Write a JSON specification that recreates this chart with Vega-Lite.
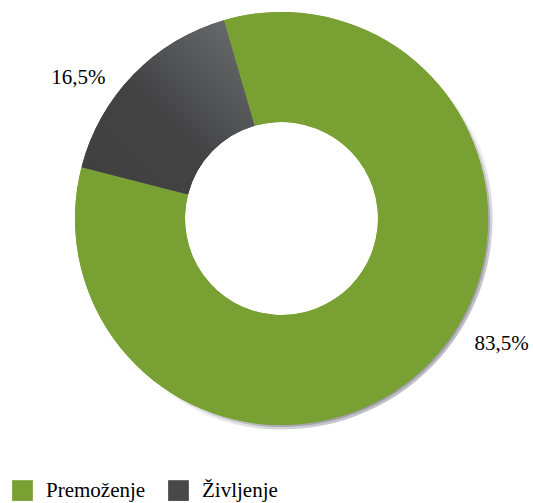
{
  "$schema": "https://vega.github.io/schema/vega-lite/v6.json",
  "width": 503,
  "height": 437,
  "autosize": {"type": "none"},
  "padding": {"left": 30, "top": 0, "right": 0, "bottom": 66},
  "background": "white",
  "config": {"view": {"stroke": null}},
  "data": {
    "values": [
      {"cat": "Premoženje", "value": 83.5, "label": "83,5%"},
      {"cat": "Življenje", "value": 16.5, "label": "16,5%"}
    ]
  },
  "encoding": {
    "theta": {"field": "value", "type": "quantitative", "stack": true, "scale": {"range": [-0.2827, 6.0005]}},
    "order": {"field": "cat", "type": "nominal", "sort": "ascending"}
  },
  "layer": [
    {
      "mark": {"type": "arc", "radius": 211, "radius2": 150, "stroke": null},
      "encoding": {
        "color": {
          "condition": {
            "test": "datum.cat === 'Premoženje'",
            "value": {"gradient": "linear", "x1": 0, "y1": 0, "x2": 1, "y2": 1,
              "stops": [{"offset": 0, "color": "#ffffff"}, {"offset": 0.6, "color": "#ffffff"}, {"offset": 0.8, "color": "#c4c4ca"}, {"offset": 1, "color": "#a8a8b0"}]}
          },
          "value": "#ffffff"
        }
      }
    },
    {
      "mark": {"type": "arc", "radius": 208.5, "radius2": 150, "stroke": null},
      "encoding": {
        "color": {
          "condition": {
            "test": "datum.cat === 'Premoženje'",
            "value": {"gradient": "linear", "x1": 0, "y1": 0, "x2": 1, "y2": 1,
              "stops": [{"offset": 0, "color": "#ffffff"}, {"offset": 0.55, "color": "#ffffff"}, {"offset": 0.75, "color": "#a6a6ae"}, {"offset": 1, "color": "#8e8e98"}]}
          },
          "value": "#ffffff"
        }
      }
    },
    {
      "mark": {"type": "arc", "radius": 206.5, "radius2": 96.5, "stroke": null},
      "encoding": {
        "color": {
          "field": "cat",
          "type": "nominal",
          "scale": {
            "domain": ["Premoženje", "Življenje"],
            "range": ["#79a032", "#48484a"]
          },
          "legend": {
            "title": null,
            "orient": "none",
            "direction": "horizontal",
            "legendX": -18,
            "legendY": 480,
            "symbolType": "square",
            "symbolSize": 430,
            "symbolStrokeWidth": 0,
            "labelFont": "Liberation Serif, Times New Roman, serif",
            "labelFontSize": 21,
            "labelColor": "#000000",
            "labelOffset": 13,
            "columnPadding": 22,
            "labelLimit": 300
          }
        }
      }
    },
    {
      "mark": {"type": "arc", "radius": 206.5, "radius2": 96.5, "stroke": null},
      "encoding": {
        "color": {
          "condition": {
            "test": "datum.cat === 'Življenje'",
            "value": {"gradient": "linear", "x1": 0, "y1": 1, "x2": 1, "y2": 0,
              "stops": [{"offset": 0, "color": "#404041"}, {"offset": 0.45, "color": "#424243"}, {"offset": 1, "color": "#6d6f72"}]}
          },
          "value": "#79a032"
        }
      }
    },
    {
      "mark": {"type": "text", "radius": 230, "font": "Liberation Serif, Times New Roman, serif", "fontSize": 21, "color": "#000000", "align": "center", "baseline": "alphabetic", "dx": -38, "dy": 26},
      "encoding": {
        "text": {"field": "label"},
        "opacity": {"condition": {"test": "datum.cat === 'Življenje'", "value": 1}, "value": 0}
      }
    },
    {
      "mark": {"type": "text", "radius": 230, "font": "Liberation Serif, Times New Roman, serif", "fontSize": 21, "color": "#000000", "align": "center", "baseline": "alphabetic", "dx": 55, "dy": -29},
      "encoding": {
        "text": {"field": "label"},
        "opacity": {"condition": {"test": "datum.cat === 'Premoženje'", "value": 1}, "value": 0}
      }
    }
  ]
}
